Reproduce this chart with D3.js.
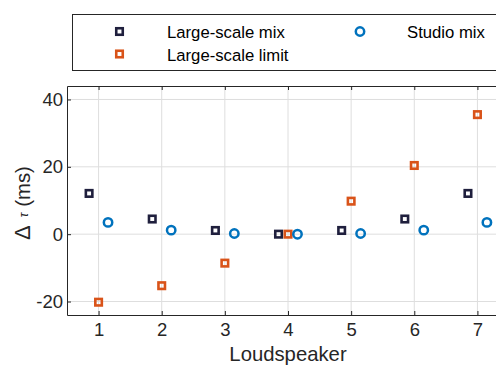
<!DOCTYPE html>
<html>
<head>
<meta charset="utf-8">
<script src="https://cdn.jsdelivr.net/npm/d3@7"></script>
<style>
  body { margin: 0; background: #fff; }
  svg { font-family: "Liberation Sans", Arial, sans-serif; }
  .grid line { stroke: #dedede; stroke-width: 1; }
  .axis text { font-size: 18.5px; fill: #262626; }
  .axis path, .axis line { stroke: #262626; }
</style>
</head>
<body>
<svg id="chart" width="496" height="365"></svg>
<script>
const speakers = [1, 2, 3, 4, 5, 6, 7];
const largeScaleMix = [12.1, 4.5, 1.1, 0, 1.1, 4.5, 12.1];
const largeScaleLimit = [-20.2, -15.3, -8.6, 0, 9.8, 20.4, 35.5];
const studioMix = [3.5, 1.2, 0.2, 0, 0.2, 1.2, 3.5];
const xTicks = [1, 2, 3, 4, 5, 6, 7];
const yTicks = [-20, 0, 20, 40];

const margin = {left: 67, top: 86};
const plotW = 442, plotH = 229;

const svg = d3.select('#chart');

const x = d3.scaleLinear().domain([0.5, 7.5]).range([margin.left, margin.left + plotW]);
const y = d3.scaleLinear().domain([-24, 44]).range([margin.top + plotH, margin.top]);

// grid
const grid = svg.append('g').attr('class', 'grid');
grid.selectAll('.gx').data(xTicks).enter().append('line')
  .attr('x1', d => x(d)).attr('x2', d => x(d))
  .attr('y1', y(-24)).attr('y2', y(44));
grid.selectAll('.gy').data(yTicks).enter().append('line')
  .attr('x1', x(0.5)).attr('x2', x(7.5))
  .attr('y1', d => y(d)).attr('y2', d => y(d));

// axes
svg.append('g').attr('class', 'axis')
  .attr('transform', `translate(0,${y(-24)})`)
  .call(d3.axisBottom(x).tickValues(xTicks).tickFormat(d => String(d))
    .tickSizeInner(-4).tickSizeOuter(0).tickPadding(8));
svg.append('g').attr('class', 'axis')
  .attr('transform', `translate(0,${y(44)})`)
  .call(d3.axisTop(x).tickValues(xTicks).tickSizeInner(-4).tickSizeOuter(0).tickFormat(''));
svg.append('g').attr('class', 'axis')
  .attr('transform', `translate(${x(0.5)},0)`)
  .call(d3.axisLeft(y).tickValues(yTicks).tickFormat(d => String(d))
    .tickSizeInner(-4).tickSizeOuter(0).tickPadding(4));

// labels
svg.append('text')
  .attr('x', x(4)).attr('y', 361)
  .attr('text-anchor', 'middle')
  .style('font-size', '20.3px').style('fill', '#262626')
  .text('Loudspeaker');
const yl = svg.append('text')
  .attr('transform', 'translate(30,203) rotate(-90)')
  .attr('text-anchor', 'middle')
  .style('font-size', '20.3px').style('fill', '#262626');
yl.append('tspan').style('font-size', '22px').text('Δ');
yl.append('tspan').attr('dx', 8).attr('dy', -2).style('font-style', 'italic').style('font-size', '12px').text('τ');
yl.append('tspan').attr('dx', 6).attr('dy', 2).text('(ms)');

// markers
const cMix = '#1f1f3d', cLimit = '#d95319', cStudio = '#0072bd';
const sq = 6.5, sw = 2.6;
function squares(data, off, color) {
  svg.append('g').selectAll('rect').data(data).enter().append('rect')
    .attr('x', (d, i) => x(speakers[i] + off) - sq / 2)
    .attr('y', d => y(d) - sq / 2)
    .attr('width', sq).attr('height', sq)
    .attr('fill', 'none').attr('stroke', color).attr('stroke-width', sw);
}
squares(largeScaleMix, -0.15, cMix);
squares(largeScaleLimit, 0, cLimit);
svg.append('g').selectAll('circle').data(studioMix).enter().append('circle')
  .attr('cx', (d, i) => x(speakers[i] + 0.15))
  .attr('cy', d => y(d))
  .attr('r', 4.2)
  .attr('fill', 'none').attr('stroke', cStudio).attr('stroke-width', 2.5);

// legend
const lg = svg.append('g');
lg.append('rect').attr('x', 72.5).attr('y', 14.5).attr('width', 430).attr('height', 56)
  .attr('fill', '#fff').attr('stroke', '#262626').attr('stroke-width', 1);
const items = [
  {label: 'Large-scale mix', color: cMix, shape: 'sq', mx: 119.5, tx: 167, y: 31.5},
  {label: 'Large-scale limit', color: cLimit, shape: 'sq', mx: 119.5, tx: 167, y: 54},
  {label: 'Studio mix', color: cStudio, shape: 'ci', mx: 360, tx: 407, y: 31.5}
];
items.forEach(it => {
  if (it.shape === 'sq') {
    lg.append('rect').attr('x', it.mx - sq / 2).attr('y', it.y - sq / 2)
      .attr('width', sq).attr('height', sq)
      .attr('fill', 'none').attr('stroke', it.color).attr('stroke-width', sw);
  } else {
    lg.append('circle').attr('cx', it.mx).attr('cy', it.y).attr('r', 4.2)
      .attr('fill', 'none').attr('stroke', it.color).attr('stroke-width', 2.5);
  }
  lg.append('text').attr('x', it.tx).attr('y', it.y + 6.5)
    .style('font-size', '16.7px').style('fill', '#000').text(it.label);
});
</script>
</body>
</html>
